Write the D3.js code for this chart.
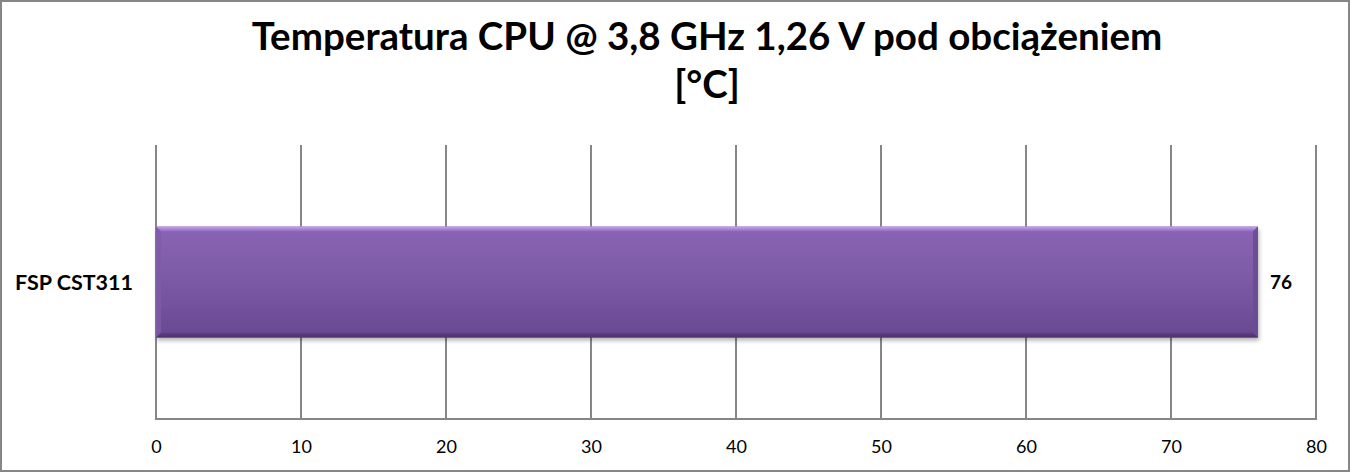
<!DOCTYPE html>
<html><head><meta charset="utf-8">
<script src="https://cdn.jsdelivr.net/npm/d3@7/dist/d3.min.js"></script>
<style>html,body{margin:0;padding:0;background:#fff;}svg{display:block;}</style>
</head><body>
<script>
const categories = ["FSP CST311"];
const values = [76];
const xTicks = [0,10,20,30,40,50,60,70,80];
const titleLines = ["Temperatura CPU @ 3,8 GHz 1,26 V pod obciążeniem", "[°C]"];

(function(){
const W = 1351, H = 473;
const font = "Lato, 'Open Sans', sans-serif";
const svg = d3.select("body").append("svg").attr("width", W).attr("height", H);

const defs = svg.append("defs");
const g1 = defs.append("linearGradient").attr("id","barGrad").attr("x1",0).attr("y1",0).attr("x2",0).attr("y2",1);
g1.append("stop").attr("offset","0%").attr("stop-color","#8a64b6");
g1.append("stop").attr("offset","45%").attr("stop-color","#7d5aa6");
g1.append("stop").attr("offset","100%").attr("stop-color","#684991");
const g2 = defs.append("linearGradient").attr("id","topGrad").attr("x1",0).attr("y1",0).attr("x2",0).attr("y2",1);
g2.append("stop").attr("offset","0%").attr("stop-color","#c3a7ec");
g2.append("stop").attr("offset","100%").attr("stop-color","#8e69bb");
const g3 = defs.append("linearGradient").attr("id","botGrad").attr("x1",0).attr("y1",0).attr("x2",0).attr("y2",1);
g3.append("stop").attr("offset","0%").attr("stop-color","#5f4385");
g3.append("stop").attr("offset","100%").attr("stop-color","#4b316d");
const f = defs.append("filter").attr("id","shadow").attr("x","-5%").attr("y","-20%").attr("width","110%").attr("height","150%");
f.append("feDropShadow").attr("dx",1).attr("dy",3).attr("stdDeviation",2).attr("flood-color","#000").attr("flood-opacity",0.3);

svg.append("rect").attr("x",1).attr("y",1).attr("width",W-3).attr("height",H-3)
  .attr("fill","#fff").attr("stroke","#868686").attr("stroke-width",2);

const title = svg.append("text").attr("text-anchor","middle").attr("font-family",font)
  .attr("font-weight","bold").attr("fill","#000");
title.append("tspan").attr("x",707).attr("y",50).text(titleLines[0]);
title.append("tspan").attr("x",707).attr("y",98).text(titleLines[1]);
title.attr("font-size",100);
const len = title.select("tspan").node().getComputedTextLength();
title.attr("font-size", 100*911/len);

const pL = 156, pR = 1316, pT = 145, pB = 419;
const x = d3.scaleLinear().domain([0,80]).range([pL,pR]);
const y = d3.scaleBand().domain(categories).range([pT,pB]).paddingInner(0.4235).paddingOuter(0.4235);

svg.append("g").selectAll("line").data(xTicks).join("line")
  .attr("x1",d=>x(d)).attr("x2",d=>x(d)).attr("y1",pT).attr("y2",pB)
  .attr("stroke","#868686").attr("stroke-width",2);
svg.append("line").attr("x1",pL-1).attr("x2",pR+1).attr("y1",pB).attr("y2",pB)
  .attr("stroke","#868686").attr("stroke-width",2);

const xAxis = d3.axisBottom(x).tickValues(xTicks).tickSize(0).tickPadding(0).tickFormat(d3.format("d"));
const ax = svg.append("g").attr("transform",`translate(0,${pB})`).call(xAxis);
ax.select(".domain").remove();
ax.selectAll("text").attr("font-family",font).attr("font-size",18).attr("fill","#000").attr("dy",null).attr("y",34);

const yAxis = d3.axisLeft(y).tickSize(0).tickPadding(0);
const ay = svg.append("g").attr("transform",`translate(133,0)`).call(yAxis);
ay.select(".domain").remove();
ay.selectAll("text").attr("font-family",font).attr("font-size",100).attr("font-weight","bold").attr("fill","#000").attr("dy","0.36em")
  .each(function(){ const l = this.getComputedTextLength(); d3.select(this).attr("font-size", 100*118/l); });

const bars = svg.append("g").selectAll("g").data(categories.map((c,i)=>({c,v:values[i]}))).join("g");
bars.each(function(d){
  const g = d3.select(this);
  const x0 = x(0), x1 = x(d.v), y0 = y(d.c), y1 = y0 + y.bandwidth();
  const b = 5;
  g.append("rect").attr("x",x0).attr("y",y0).attr("width",x1-x0).attr("height",y1-y0)
    .attr("fill","url(#barGrad)").attr("filter","url(#shadow)");
  g.append("path").attr("d",`M${x0},${y0}L${x1},${y0}L${x1-b},${y0+b}L${x0+b},${y0+b}Z`).attr("fill","url(#topGrad)");
  g.append("path").attr("d",`M${x1},${y0}L${x1},${y1}L${x1-b},${y1-b}L${x1-b},${y0+b}Z`).attr("fill","#6a4c93").attr("opacity",0.9);
  g.append("path").attr("d",`M${x0},${y1}L${x1},${y1}L${x1-b},${y1-b}L${x0+b},${y1-b}Z`).attr("fill","url(#botGrad)");
  g.append("path").attr("d",`M${x0},${y0}L${x0+b},${y0+b}L${x0+b},${y1-b}L${x0},${y1}Z`).attr("fill","#7e5ba8").attr("opacity",0.8);
  g.append("text").attr("x",x1+12).attr("y",(y0+y1)/2).attr("dy","0.36em")
    .attr("font-family",font).attr("font-size",19).attr("font-weight","bold").text(d.v);
});
})();
</script>
</body></html>
